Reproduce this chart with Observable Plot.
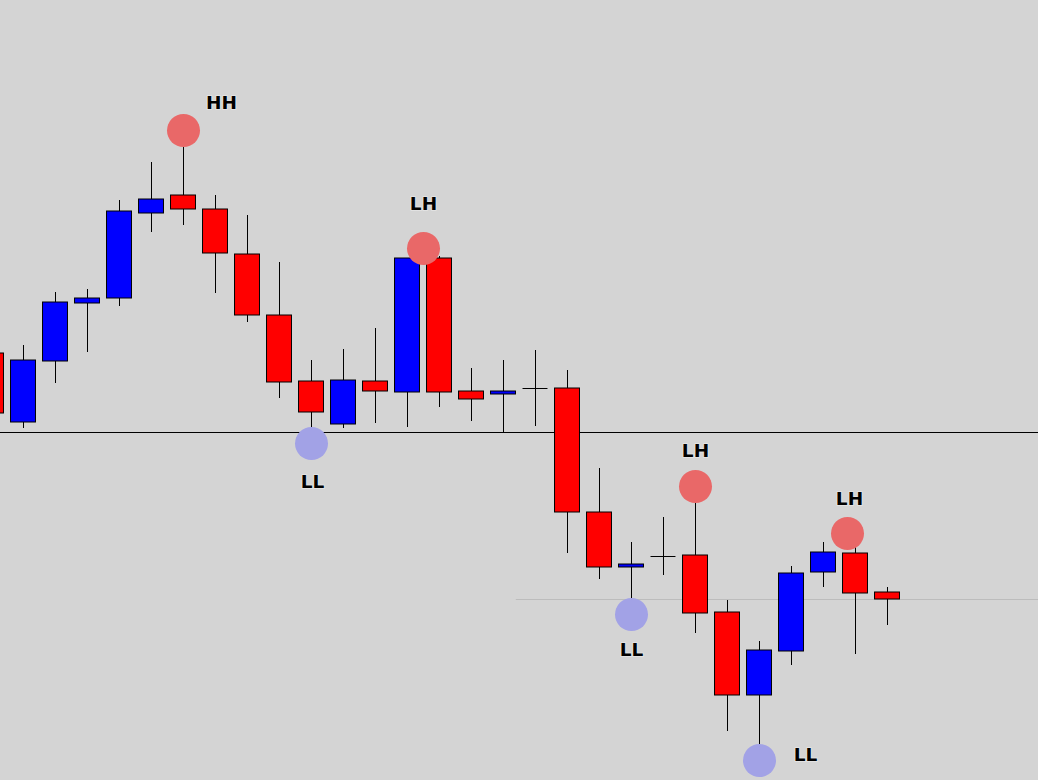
<!DOCTYPE html>
<html>
<head>
<meta charset="utf-8">
<script src="https://cdn.jsdelivr.net/npm/d3@7"></script>
<script src="https://cdn.jsdelivr.net/npm/@observablehq/plot@0.6"></script>
<style>
  html, body { margin: 0; padding: 0; background: #d4d4d4; }
  #chart svg { display: block; }
</style>
</head>
<body>
<div id="chart"></div>
<script>
// Candle series (index, open, high, low, close)
const candleIndex = d3.range(29);
const opens  = [1.1427,1.1358,1.1419,1.1477,1.1482,1.1567,1.1585,1.1571,1.1526,1.1465,1.1399,1.1356,1.1399,1.1388,1.1522,1.1389,1.1386,1.1392,1.1392,1.1268,1.1213,1.1224,1.1225,1.1168,1.1085,1.1129,1.1208,1.1227,1.1188];
const highs  = [1.1435,1.1435,1.1488,1.1491,1.1580,1.1618,1.1645,1.1585,1.1565,1.1518,1.1420,1.1431,1.1452,1.1522,1.1524,1.1412,1.1420,1.1430,1.1410,1.1312,1.1238,1.1263,1.1290,1.1180,1.1139,1.1214,1.1238,1.1242,1.1193];
const lows   = [1.1362,1.1352,1.1397,1.1428,1.1474,1.1548,1.1555,1.1487,1.1458,1.1382,1.1347,1.1352,1.1357,1.1353,1.1373,1.1359,1.1347,1.1354,1.1227,1.1201,1.1178,1.1205,1.1147,1.1049,1.1017,1.1115,1.1193,1.1126,1.1155];
const closes = [1.1367,1.1420,1.1478,1.1482,1.1569,1.1581,1.1571,1.1527,1.1465,1.1398,1.1368,1.1400,1.1389,1.1522,1.1388,1.1381,1.1389,1.1392,1.1268,1.1213,1.1216,1.1224,1.1167,1.1085,1.1130,1.1207,1.1228,1.1187,1.1181];

// Swing markers
const markerLabels = ["HH", "LH", "LL", "LH", "LL", "LH", "LL"];
const markerIndex  = [6, 13.5, 10, 22, 20, 26.75, 24];
const markerPrice  = [1.1650, 1.1532, 1.1337, 1.1294, 1.1166, 1.1247, 1.1020];

// Levels
const levelPrices = [1.1348];
const supportPrice = 1.1181;
const supportFromIndex = 16.4;

// Layout (label offsets in px relative to marker)
const labelDx = [38, 0, 1, 0, 0, 2, 46];
const labelDy = [-27, -44, 39, -35, 36, -34, -5];

const candles = candleIndex.map(i => ({
  i, open: opens[i], high: highs[i], low: lows[i], close: closes[i]
}));
const bodies = candles.filter(d => d.open !== d.close);
const dojis = candles.filter(d => d.open === d.close);
const markers = markerLabels.map((label, k) => ({
  label, i: markerIndex[k], price: markerPrice[k], dx: labelDx[k], dy: labelDy[k]
}));

const half = 0.39;
const W = 1038, H = 780;

const chart = Plot.plot({
  width: W,
  height: H,
  margin: 0,
  style: { background: "#d4d4d4", overflow: "hidden" },
  x: { type: "linear", domain: [0.28125, 32.71875], axis: null },
  y: { domain: [1.1000, 1.1780], axis: null },
  marks: [
    Plot.ruleY(levelPrices, { stroke: "#000", strokeWidth: 1 }),
    Plot.ruleY([supportPrice], { x1: supportFromIndex, x2: 32.71875, stroke: "#bcbcbc", strokeWidth: 1 }),
    Plot.ruleX(candles, { x: "i", y1: "low", y2: "high", stroke: "#000", strokeWidth: 1 }),
    Plot.rect(bodies, {
      x1: d => d.i - half, x2: d => d.i + half,
      y1: "open", y2: "close",
      fill: d => d.close > d.open ? "#0000ff" : "#ff0000",
      stroke: "#000", strokeWidth: 1
    }),
    Plot.ruleY(dojis, { y: "open", x1: d => d.i - half, x2: d => d.i + half, stroke: "#000", strokeWidth: 1 }),
    Plot.dot(markers, {
      x: "i", y: "price", r: 16.5,
      fill: d => d.label === "LL" ? "#a2a2e6" : "#e96868",
      stroke: "none"
    }),
    Plot.text(markers, {
      x: "i", y: "price", text: "label",
      fontFamily: "DejaVu Sans", fontWeight: "bold", fontSize: 18.5,
      fill: "#000", stroke: "#ffffff", strokeOpacity: 0.35, strokeWidth: 2
    })
  ]
});

// per-label pixel offsets applied after render
chart.querySelectorAll("g[aria-label='text'] text").forEach((t, k) => {
  const m = markers[k];
  const tr = t.getAttribute("transform") || "";
  t.setAttribute("transform", tr + ` translate(${m.dx},${m.dy})`);
});

document.getElementById("chart").appendChild(chart);
</script>
</body>
</html>
